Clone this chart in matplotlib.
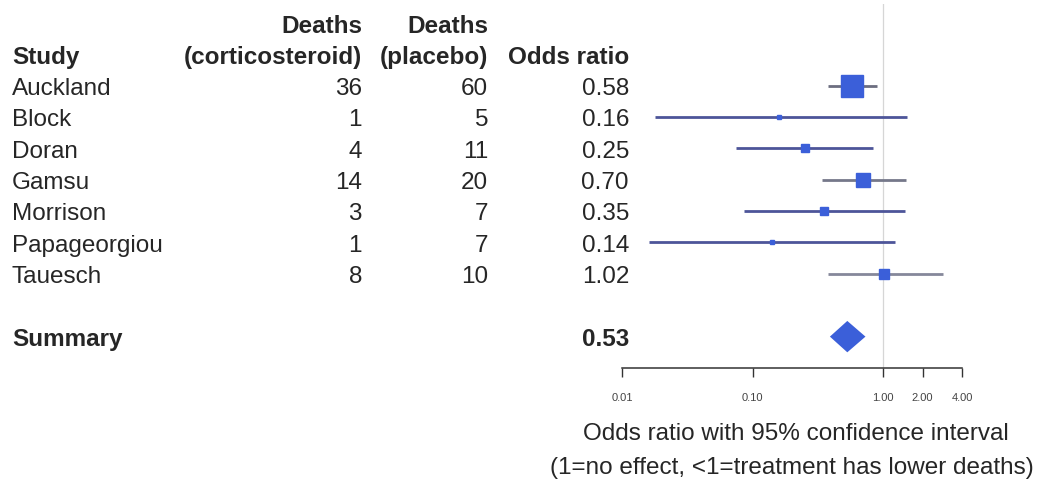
import matplotlib
matplotlib.use('Agg')
import matplotlib.pyplot as plt
import matplotlib.transforms as mtransforms

plt.rcParams['font.family'] = ['Liberation Sans', 'DejaVu Sans']

# data
studies = ['Auckland', 'Block', 'Doran', 'Gamsu', 'Morrison', 'Papageorgiou', 'Tauesch']
deaths_cs = [36, 1, 4, 14, 3, 1, 8]
deaths_pl = [60, 5, 11, 20, 7, 7, 10]
odds = [0.58, 0.16, 0.25, 0.70, 0.35, 0.14, 1.02]
ci_low = [0.38, 0.018, 0.074, 0.34, 0.086, 0.016, 0.38]
ci_high = [0.90, 1.52, 0.84, 1.49, 1.47, 1.23, 2.84]
summary_or, summary_lo, summary_hi = 0.53, 0.39, 0.73
xticks = [0.01, 0.10, 1.00, 2.00, 4.00]

# styles
box_px = [23, 5, 8, 14, 8, 5, 10]
line_cols = ['#6c6e80', '#4d5599', '#4d5599', '#75788a', '#4d5599', '#4d5599', '#85889a']
BLUE = '#3b5fd9'
TXT = '#262626'
FS = 17.5

W, H = 1041, 485
fig = plt.figure(figsize=(W / 100, H / 100), dpi=100)
ax = fig.add_axes([622 / W, (H - 369) / H, (962 - 622) / W, (369 - 5) / H])
ax.set_xscale('log')
ax.set_xlim(0.01, 4)
ax.set_ylim(9.0, -2.6)

summary_row = len(studies) + 1

ax.axvline(1, color='#d6d6d6', lw=0.9, zorder=0)

for i in range(len(studies)):
    ax.plot([ci_low[i], ci_high[i]], [i, i], color=line_cols[i], lw=2.0, zorder=1,
            solid_capstyle='butt')
    ax.plot(odds[i], i, marker='s', ms=box_px[i] * 0.72, color=BLUE, mec=BLUE, zorder=2)

ax.fill([summary_lo, summary_or, summary_hi, summary_or],
        [summary_row, summary_row - 0.5, summary_row, summary_row + 0.5],
        color=BLUE, lw=0, zorder=2)

for s in ['top', 'right', 'left']:
    ax.spines[s].set_visible(False)
ax.spines['bottom'].set_color('#333333')
ax.spines['bottom'].set_linewidth(1.1)
ax.set_yticks([])
ax.set_xticks(xticks)
ax.set_xticklabels([f'{t:.2f}' for t in xticks], fontsize=8, color='#444444')
ax.minorticks_off()
ax.tick_params(axis='x', direction='out', length=6.5, width=1.0, color='#333333', pad=11)

# table text: x in figure px, y in data rows
tr = mtransforms.blended_transform_factory(fig.transFigure, ax.transData)
DY = 0.07

def col(x_px, y, s, ha='left', bold=False):
    ax.text(x_px / W, y + DY, s, transform=tr, ha=ha, va='center', fontsize=FS,
            fontweight='bold' if bold else 'normal', color=TXT, clip_on=False)

col(12, -1, 'Study', bold=True)
col(362, -2, 'Deaths', ha='right', bold=True)
col(362, -1, '(corticosteroid)', ha='right', bold=True)
col(488, -2, 'Deaths', ha='right', bold=True)
col(488, -1, '(placebo)', ha='right', bold=True)
col(629, -1, 'Odds ratio', ha='right', bold=True)

for i, name in enumerate(studies):
    col(12, i, name)
    col(362, i, str(deaths_cs[i]), ha='right')
    col(488, i, str(deaths_pl[i]), ha='right')
    col(629, i, f'{odds[i]:.2f}', ha='right')

col(12, summary_row, 'Summary', bold=True)
col(629, summary_row, f'{summary_or:.2f}', ha='right', bold=True)

fig.text(796 / W, 1 - 434 / H, 'Odds ratio with 95% confidence interval',
         ha='center', va='center', fontsize=FS, color=TXT)
fig.text(792 / W, 1 - 468 / H, '(1=no effect, <1=treatment has lower deaths)',
         ha='center', va='center', fontsize=FS, color=TXT)

fig.savefig('out.png', dpi=100, facecolor='white')
